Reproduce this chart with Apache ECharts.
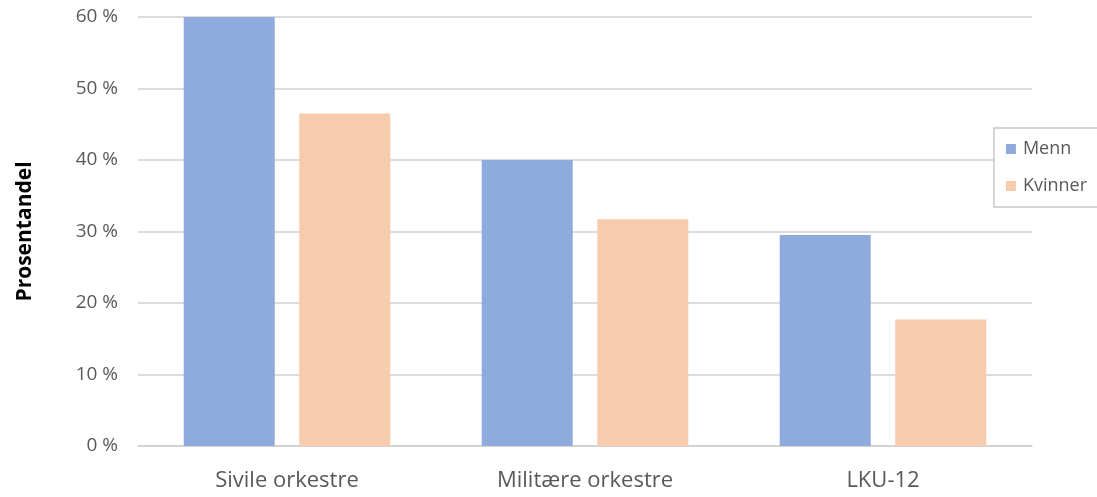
<!DOCTYPE html>
<html>
<head>
<meta charset="utf-8">
<script src="https://cdn.jsdelivr.net/npm/echarts@6/dist/echarts.min.js"></script>
<style>
  html, body { margin: 0; padding: 0; background: #fff; }
  #chart { width: 1097px; height: 497px; }
</style>
</head>
<body>
<div id="chart"></div>
<script>
// Andel (%) per orkestertype, fordelt på kjønn
const categories = ['Sivile orkestre', 'Militære orkestre', 'LKU-12'];
const menn = [60, 40, 29.5];
const kvinner = [46.5, 31.7, 17.7];
const seriesNames = ['Menn', 'Kvinner'];
const yAxisTitle = 'Prosentandel';

const chart = echarts.init(document.getElementById('chart'), null, { renderer: 'canvas' });
const font = '"Open Sans", "Noto Sans", sans-serif';

chart.setOption({
  animation: false,
  textStyle: { fontFamily: font },
  grid: { left: 138, right: 65, top: 17, bottom: 51, containLabel: false },
  legend: {
    data: seriesNames,
    orient: 'vertical',
    right: -8,
    top: 128,
    padding: [12, 18, 12, 12],
    borderColor: '#c8c8c8',
    borderWidth: 1.5,
    backgroundColor: '#fff',
    itemWidth: 10,
    itemHeight: 10,
    itemGap: 19,
    icon: 'rect',
    textStyle: { color: '#595959', fontSize: 18, fontFamily: font, padding: [0, 0, 0, 2] }
  },
  xAxis: {
    type: 'category',
    data: categories,
    axisTick: { show: false },
    axisLine: { lineStyle: { color: '#d0d0d0', width: 1.5 } },
    axisLabel: { color: '#595959', fontSize: 22, margin: 24, fontFamily: font }
  },
  yAxis: {
    type: 'value',
    min: 0,
    max: 60,
    interval: 10,
    name: yAxisTitle,
    nameLocation: 'middle',
    nameGap: 102,
    nameTextStyle: { color: '#000', fontSize: 21, fontWeight: 'bold', fontFamily: font },
    axisLine: { show: false },
    axisTick: { show: false },
    splitLine: { lineStyle: { color: '#d0d0d0', width: 1.5 } },
    axisLabel: { color: '#595959', fontSize: 19, margin: 20, formatter: '{value} %', fontFamily: font }
  },
  series: [
    {
      name: seriesNames[0],
      type: 'bar',
      data: menn,
      barWidth: 91,
      barGap: '27%',
      itemStyle: { color: '#8faadc' }
    },
    {
      name: seriesNames[1],
      type: 'bar',
      data: kvinner,
      barWidth: 91,
      barGap: '27%',
      itemStyle: { color: '#f8cbad' }
    }
  ]
});
</script>
</body>
</html>
